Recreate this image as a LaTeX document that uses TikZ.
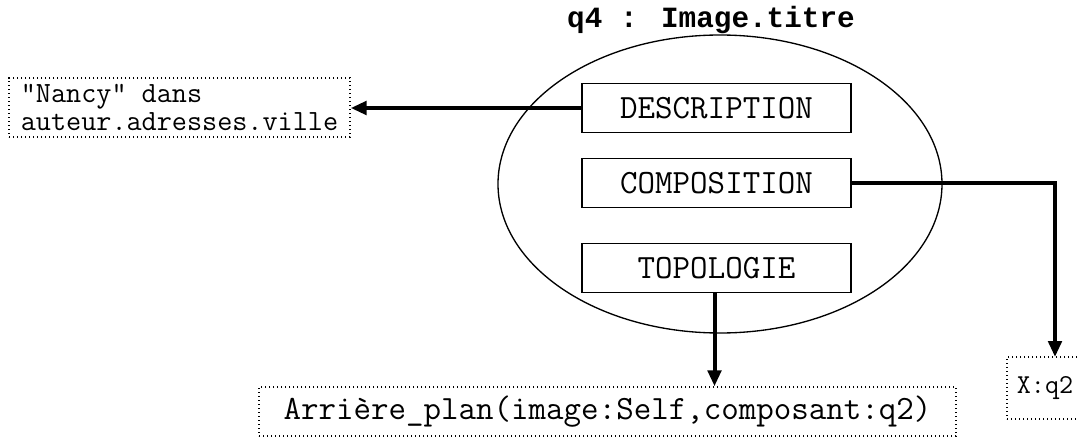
\documentclass[tikz,border=0pt]{standalone}
\usepackage{fontspec}
\newfontfamily\titlefont{Liberation Mono}
\usetikzlibrary{shapes,arrows.meta,positioning}

\begin{document}
\begin{tikzpicture}[x=0.75pt, y=-0.75pt, >={Triangle[length=12pt,width=10pt]},
    every node/.style={font=\ttfamily\fontsize{25.5}{30}\selectfont}]
    \useasboundingbox (0,0) rectangle (1079,439);

    % Object and its attributes
    \node[font=\titlefont\bfseries\fontsize{22}{26}\selectfont] (title) at (711,20) {q4 : Image.titre};
    \node[ellipse, draw, line width=1pt, minimum width=333pt, minimum height=223.5pt, inner sep=0pt] (obj) at (720,184) {};
    \node[rectangle, draw, line width=1pt, minimum width=201.75pt, minimum height=36.75pt] (desc) at (716.5,108) {DESCRIPTION};
    \node[rectangle, draw, line width=1pt, minimum width=201.75pt, minimum height=36.75pt] (comp) at (716.5,183) {COMPOSITION};
    \node[rectangle, draw, line width=1pt, minimum width=201.75pt, minimum height=36.75pt] (topo) at (716.5,268) {TOPOLOGIE};

    % Conditions in dotted boxes
    \node[rectangle, draw, dotted, line width=1pt, align=left, minimum width=255.75pt, minimum height=44.25pt, inner xsep=3pt,
          font=\ttfamily\fontsize{22}{21}\selectfont] (nancy) at (179.5,107.5) {"Nancy" dans\\auteur.adresses.ville};
    \node[rectangle, draw, dotted, line width=1pt, minimum width=522.75pt, minimum height=36.75pt] (plan) at (607.5,411.5) {Arrière\_plan(image:Self,composant:q2)};
    \node[rectangle, draw, dotted, line width=1pt, minimum width=57pt, minimum height=46.5pt,
          font=\ttfamily\fontsize{20.5}{24}\selectfont] (xq) at (1045,388) {X:q2};
    \coordinate (xin) at (1055,357);

    % Arrows
    \draw[->, line width=3pt] (desc.west) -- (desc.west -| nancy.east);
    \draw[->, line width=3pt] (comp.east) -| (xin);
    \draw[->, line width=3pt] ([xshift=-1.5]topo.south) -- ([xshift=-1.5]topo.south |- plan.north);
\end{tikzpicture}
\end{document}
